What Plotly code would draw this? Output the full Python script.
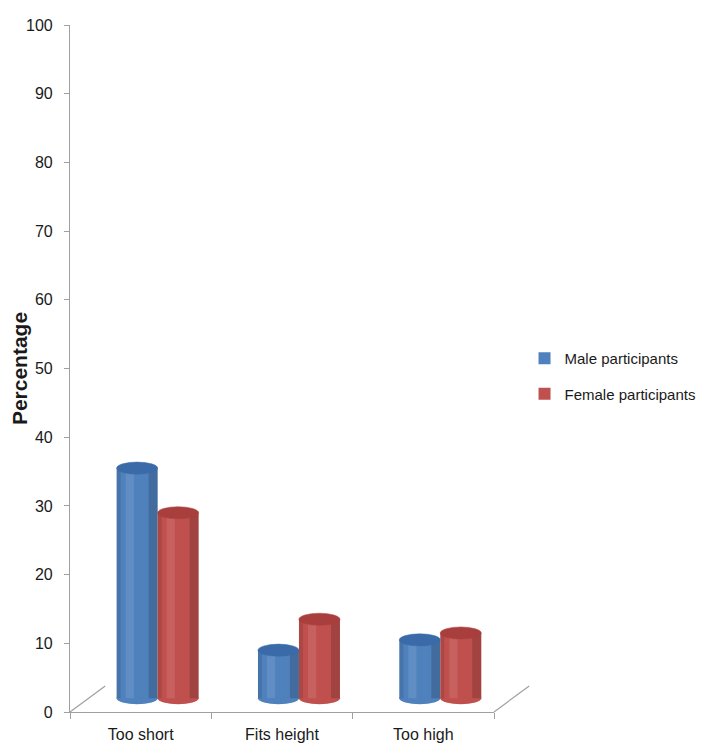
import plotly.graph_objects as go

# Data (heights of the columns, in %)
categories = ["Too short", "Fits height", "Too high"]
male_values = [33.5, 7.0, 8.5]
female_values = [27.0, 11.5, 9.5]
series_names = ["Male participants", "Female participants"]
y_tick_values = list(range(0, 101, 10))

# Styling constants
FLOOR = 2.0          # depth offset of the 3-D floor, in axis units
BAR_W = 0.29
OFFSETS = [-0.17, 0.12]
MAIN = ["#4f81bd", "#c0504d"]
TOPS = ["#3a6aa8", "#a83f3d"]
CAP = 0.88           # half-height of the ellipse caps in axis units

fig = go.Figure()
idx = list(range(len(categories)))

for s, (name, vals) in enumerate(zip(series_names, [male_values, female_values])):
    fig.add_trace(go.Bar(
        x=categories, y=vals, base=[FLOOR] * len(vals), name=name,
        legendgroup=name,
        marker=dict(color=MAIN[s], line=dict(width=0)),
        width=BAR_W, offset=OFFSETS[s],
    ))
    # shading strips to suggest a cylinder
    for off, w, col, op in [(OFFSETS[s] + BAR_W * 0.78, BAR_W * 0.22, "black", 0.16),
                            (OFFSETS[s], BAR_W * 0.10, "black", 0.10),
                            (OFFSETS[s] + BAR_W * 0.22, BAR_W * 0.20, "white", 0.10)]:
        fig.add_trace(go.Bar(
            x=categories, y=vals, base=[FLOOR] * len(vals), legendgroup=name,
            marker=dict(color=col, opacity=op, line=dict(width=0)),
            width=w, offset=off, showlegend=False, hoverinfo="skip",
        ))

shapes = []
for s, vals in enumerate([male_values, female_values]):
    for i, v in zip(idx, vals):
        x0 = i + OFFSETS[s]
        x1 = x0 + BAR_W
        # rounded bottom
        shapes.append(dict(type="circle", xref="x", yref="y", x0=x0, x1=x1,
                           y0=FLOOR - CAP, y1=FLOOR + CAP,
                           fillcolor=MAIN[s], line=dict(width=0), layer="below"))
        # top ellipse
        top = FLOOR + v
        shapes.append(dict(type="circle", xref="x", yref="y", x0=x0, x1=x1,
                           y0=top - CAP, y1=top + CAP,
                           fillcolor=TOPS[s], line=dict(width=0.5, color=TOPS[s]), layer="above"))

# 3-D floor edge lines
shapes.append(dict(type="line", xref="paper", yref="paper", x0=0, y0=0, x1=0.083, y1=0.038,
                   line=dict(color="#a0a0a0", width=1.2)))
shapes.append(dict(type="line", xref="paper", yref="paper", x0=1.0, y0=0, x1=1.083, y1=0.038,
                   line=dict(color="#a0a0a0", width=1.2)))

fig.update_layout(
    width=707, height=743,
    margin=dict(l=62, r=221, t=17, b=39, autoexpand=False),
    paper_bgcolor="white", plot_bgcolor="white",
    barmode="overlay",
    font=dict(family="Liberation Sans, Arial, sans-serif", size=16, color="#1a1a1a"),
    shapes=shapes,
    showlegend=True,
    legend=dict(x=1.072, xanchor="left", y=0.489, yanchor="middle",
                font=dict(size=15), traceorder="grouped", tracegroupgap=13,
                bgcolor="rgba(0,0,0,0)"),
    xaxis=dict(type="category", range=[-0.5, 2.5], showline=True, linecolor="#a0a0a0",
               linewidth=1.2, ticks="outside", tickson="boundaries", ticklen=6,
               tickcolor="#a0a0a0", showgrid=False, zeroline=False, automargin=False,
               ticklabelstandoff=8, tickfont=dict(size=16)),
    yaxis=dict(range=[0, 100], tickvals=y_tick_values, showline=True, linecolor="#a0a0a0",
               linewidth=1.2, ticks="outside", ticklen=5, tickcolor="#a0a0a0",
               ticklabelstandoff=8, automargin=False,
               showgrid=False, zeroline=False, tickfont=dict(size=16),
               title=dict(text="<b>Percentage</b>", font=dict(size=21), standoff=34)),
)

fig.write_html("out.html")
